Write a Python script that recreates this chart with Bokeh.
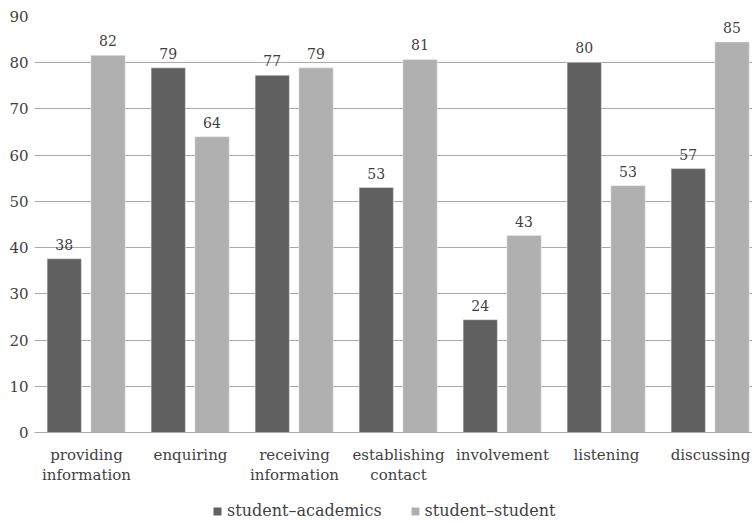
import numpy as np
from bokeh.plotting import figure
from bokeh.layouts import column
from bokeh.models import (ColumnDataSource, Range1d, FixedTicker, LabelSet,
                          Legend, LegendItem)
from bokeh.core.properties import value
from bokeh.transform import dodge
from bokeh.embed import file_html
from bokeh.resources import INLINE

categories = ["providing\ninformation", "enquiring", "receiving\ninformation",
              "establishing\ncontact", "involvement", "listening", "discussing"]
academics = [37.6, 78.9, 77.3, 53.0, 24.4, 80.1, 57.1]
student = [81.6, 64.0, 78.9, 80.7, 42.6, 53.4, 84.5]
academics_labels = ["38", "79", "77", "53", "24", "80", "57"]
student_labels = ["82", "64", "79", "81", "43", "53", "85"]
series_names = ["student\u2013academics", "student\u2013student"]
y_ticks = [0, 10, 20, 30, 40, 50, 60, 70, 80, 90]

DARK = "#606060"
LIGHT = "#b0b0b0"
TXT = "#3f3f3f"
GRID = "#a9a9a9"
FONT = "DejaVu Serif"

pos = list(range(1, len(categories) + 1))
src = ColumnDataSource(dict(x=pos, a=academics, s=student,
                            al=academics_labels, sl=student_labels))

p = figure(width=752, height=490, output_backend="svg",
           toolbar_location=None,
           x_range=Range1d(0.5, 0.5 + 718 / 104), y_range=Range1d(0, 90),
           min_border_left=34, min_border_right=0, min_border_top=16,
           min_border_bottom=58)
p.outline_line_color = None
p.background_fill_color = "white"
p.border_fill_color = "white"

p.vbar(x=dodge("x", -0.214, range=p.x_range), top="a", width=0.33,
       source=src, fill_color=DARK, line_color="#e8e8e8", line_width=0.6)
p.vbar(x=dodge("x", 0.207, range=p.x_range), top="s", width=0.33,
       source=src, fill_color=LIGHT, line_color="#e8e8e8", line_width=0.6)

for xo, col, lab in [(-0.214, "a", "al"), (0.207, "s", "sl")]:
    ls = LabelSet(x=dodge("x", xo, range=p.x_range), y=col, text=lab, source=src,
                  y_offset=9, text_align="center", text_baseline="bottom",
                  text_font=value(FONT), text_font_size=value("14px"),
                  text_color=TXT)
    p.add_layout(ls)

# axes
p.yaxis.ticker = FixedTicker(ticks=y_ticks)
p.yaxis.axis_line_color = None
p.yaxis.major_tick_line_color = None
p.yaxis.minor_tick_line_color = None
p.yaxis.major_tick_out = 0
p.yaxis.major_label_text_font = FONT
p.yaxis.major_label_text_font_size = "15px"
p.yaxis.major_label_text_color = TXT
p.yaxis.major_label_standoff = 6

p.xaxis.ticker = FixedTicker(ticks=pos)
p.xaxis.major_label_overrides = {k: v for k, v in zip(pos, categories)}
p.xaxis.axis_line_color = GRID
p.xaxis.major_tick_line_color = None
p.xaxis.minor_tick_line_color = None
p.xaxis.major_tick_out = 0
p.xaxis.major_label_text_font = FONT
p.xaxis.major_label_text_font_size = "15px"
p.xaxis.major_label_text_color = TXT
p.xaxis.major_label_text_line_height = 1.12
p.xaxis.major_label_standoff = 13

p.xgrid.grid_line_color = None
p.ygrid.ticker = FixedTicker(ticks=y_ticks)
p.ygrid.grid_line_color = GRID
p.ygrid.grid_line_width = 1

# legend strip below the chart (its renderers share the data but lie out of view)
lg = figure(width=752, height=31, output_backend="svg", toolbar_location=None,
            x_range=Range1d(100, 101), y_range=Range1d(1000, 1001),
            x_axis_type=None, y_axis_type=None,
            min_border_left=0, min_border_right=0, min_border_top=0,
            min_border_bottom=0)
lg.outline_line_color = None
lg.background_fill_color = "white"
lg.border_fill_color = "white"
g1 = lg.vbar(x="x", top="a", width=0.33, source=src,
             fill_color=DARK, line_color=None, line_alpha=0)
g2 = lg.vbar(x="x", top="s", width=0.33, source=src,
             fill_color=LIGHT, line_color=None, line_alpha=0)
legend = Legend(items=[LegendItem(label=series_names[0], renderers=[g1]),
                       LegendItem(label=series_names[1], renderers=[g2])],
                orientation="horizontal", location=(178, 1),
                label_text_font=FONT, label_text_font_size="16px",
                label_text_color=TXT, glyph_width=10, glyph_height=10,
                label_standoff=5, spacing=28, padding=0, margin=0,
                border_line_color=None, background_fill_alpha=0)
lg.add_layout(legend, "center")

layout = column(p, lg, spacing=0)
open("out.html", "w").write(file_html(layout, INLINE))
